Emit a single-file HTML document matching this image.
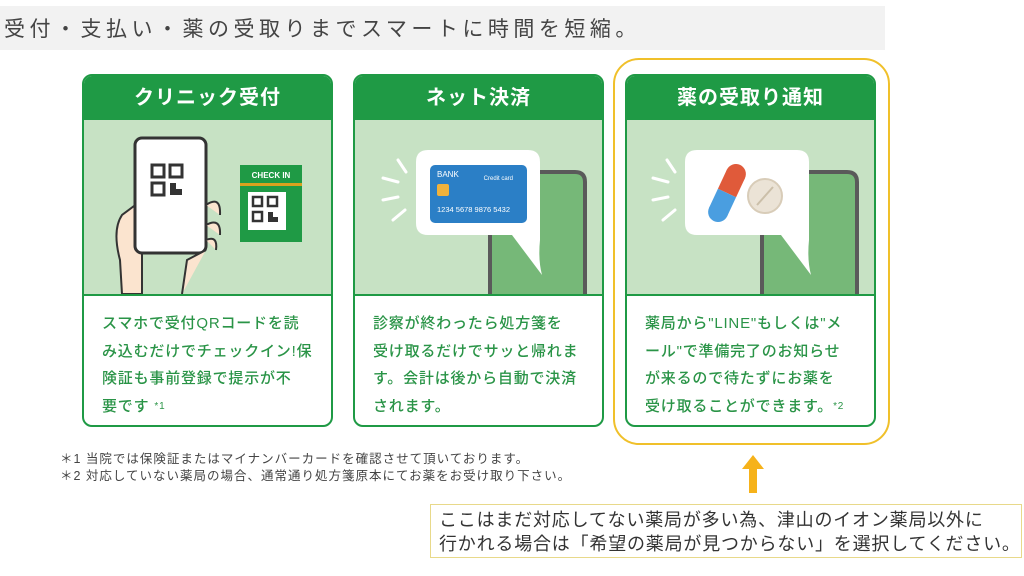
<!DOCTYPE html>
<html><head><meta charset="utf-8"><style>
body{margin:0;width:1024px;height:576px;background:#fff;position:relative;overflow:hidden;font-family:"Liberation Sans","Noto Sans CJK JP",sans-serif}
.a{position:absolute}
.title{left:0;top:6px;width:885px;height:44px;background:#f2f2f2;font-size:21px;color:#444;line-height:44px;padding-left:4px;box-sizing:border-box;letter-spacing:4.5px;font-family:"Noto Sans CJK JP",sans-serif}
.card{width:251px;height:353px;top:74px;border:2px solid #1f9a45;border-radius:10px;box-sizing:border-box;overflow:hidden;background:#fff}
.hd{height:44px;background:#1f9a45;color:#fff;font-weight:bold;font-size:20px;text-align:center;line-height:44px;letter-spacing:1px}
.ill{height:174px;background:#c7e2c4;border-bottom:2px solid #1f9a45;position:relative}
.tx{padding:14px 0 0 18px;color:#2a9447;font-size:15px;line-height:27.5px;font-weight:500;letter-spacing:0.8px}
.fn{left:60px;font-size:12.5px;color:#444;letter-spacing:1px}
</style></head><body>
<div class="a title">受付・支払い・薬の受取りまでスマートに時間を短縮。</div>
<div class="a" style="left:613px;top:58px;width:277px;height:387px;border:2px solid #f0c02a;border-radius:26px;box-sizing:border-box"></div>

<div class="a card" style="left:82px">
<div class="hd">クリニック受付</div>
<div class="ill"><svg width="251" height="174" class="a" style="left:-2px;top:0">
<path d="M40 174 L38 140 Q30 110 40 95 L60 80 L60 174Z" fill="#fbe4cf" stroke="#333" stroke-width="2"/>
<rect x="53" y="18" width="71" height="115" rx="7" fill="#fff" stroke="#333" stroke-width="3"/>
<g fill="none" stroke="#333" stroke-width="3"><rect x="70" y="45" width="12" height="12"/><rect x="88" y="45" width="12" height="12"/><rect x="70" y="63" width="12" height="12"/></g>
<path d="M88 63h6v6h6v6h-12z" fill="#333"/>
<path d="M124 85 q15 -10 14 10 M124 105 q15 -8 14 10 M124 120 q12 -5 10 10" fill="#fbe4cf" stroke="#333" stroke-width="2"/>
<path d="M100 174 L105 140 L124 130" fill="#fbe4cf" stroke="#333" stroke-width="2"/>
<rect x="158" y="45" width="62" height="77" fill="#1f9a45"/>
<text x="189" y="58" font-size="8" font-weight="bold" fill="#fff" text-anchor="middle">CHECK IN</text>
<rect x="158" y="63" width="62" height="3" fill="#d9a21e"/>
<rect x="166" y="72" width="38" height="38" fill="#fff"/>
<g fill="none" stroke="#333" stroke-width="2.5"><rect x="171" y="77" width="9" height="9"/><rect x="186" y="77" width="9" height="9"/><rect x="171" y="92" width="9" height="9"/></g>
<path d="M186 92h5v5h5v5h-10z" fill="#333"/>
</svg></div>
<div class="tx">スマホで受付QRコードを読<br>み込むだけでチェックイン!保<br>険証も事前登録で提示が不<br>要です <span style="font-size:10px;vertical-align:top">*1</span></div>
</div>

<div class="a card" style="left:353px">
<div class="hd">ネット決済</div>
<div class="ill"><svg width="251" height="174" class="a" style="left:-2px;top:0">
<path d="M137 174 V62 q0 -10 10 -10 H222 q10 0 10 10 V174" fill="#76b878" stroke="#5a5a5a" stroke-width="4"/>
<path d="M75 30 H175 q12 0 12 12 V120 q-2 20 2 35 q-15 -20 -30 -40 H75 q-12 0 -12 -12 V42 q0 -12 12 -12z" fill="#fff"/>
<rect x="77" y="45" width="97" height="58" rx="5" fill="#2b7fc6"/>
<text x="84" y="57" font-size="8" fill="#fff">BANK</text>
<text x="160" y="60" font-size="6" fill="#fff" text-anchor="end">Credit card</text>
<rect x="84" y="64" width="12" height="12" rx="2" fill="#f0b23c"/>
<text x="84" y="92" font-size="7.5" fill="#fff">1234 5678 9876 5432</text>
<g stroke="#fff" stroke-width="3" stroke-linecap="round"><line x1="45" y1="40" x2="53" y2="52"/><line x1="30" y1="58" x2="45" y2="62"/><line x1="30" y1="80" x2="45" y2="77"/><line x1="40" y1="100" x2="52" y2="90"/></g>
</svg></div>
<div class="tx">診察が終わったら処方箋を<br>受け取るだけでサッと帰れま<br>す。会計は後から自動で決済<br>されます。</div>
</div>

<div class="a card" style="left:625px">
<div class="hd">薬の受取り通知</div>
<div class="ill"><svg width="251" height="174" class="a" style="left:-2px;top:0">
<path d="M137 174 V62 q0 -10 10 -10 H222 q10 0 10 10 V174" fill="#76b878" stroke="#5a5a5a" stroke-width="4"/>
<path d="M72 30 H172 q12 0 12 12 V120 q-2 20 2 35 q-15 -20 -30 -40 H72 q-12 0 -12 -12 V42 q0 -12 12 -12z" fill="#fff"/>
<g transform="rotate(25 102 73)"><rect x="92" y="52" width="20" height="21" fill="#e05a3a"/><rect x="92" y="73" width="20" height="21" fill="#4a9ee0"/><circle cx="102" cy="52" r="10" fill="#e05a3a"/><circle cx="102" cy="94" r="10" fill="#4a9ee0"/></g>
<circle cx="140" cy="76" r="17" fill="#ebe3d6" stroke="#d8ccb8" stroke-width="2"/>
<line x1="132" y1="85" x2="148" y2="67" stroke="#cbbfa9" stroke-width="2"/>
<g stroke="#fff" stroke-width="3" stroke-linecap="round"><line x1="42" y1="40" x2="50" y2="52"/><line x1="28" y1="58" x2="43" y2="62"/><line x1="28" y1="80" x2="43" y2="77"/><line x1="38" y1="100" x2="50" y2="90"/></g>
</svg></div>
<div class="tx">薬局から"LINE"もしくは"メ<br>ール"で準備完了のお知らせ<br>が来るので待たずにお薬を<br>受け取ることができます。<span style="font-size:10px;vertical-align:top">*2</span></div>
</div>

<div class="a fn" style="top:448px">＊1 当院では保険証またはマイナンバーカードを確認させて頂いております。</div>
<div class="a fn" style="top:465px">＊2 対応していない薬局の場合、通常通り処方箋原本にてお薬をお受け取り下さい。</div>

<svg class="a" style="left:740px;top:455px" width="26" height="40"><path d="M13 0 L24 14 H17 V38 H9 V14 H2Z" fill="#f6b21a"/></svg>
<div class="a" style="left:430px;top:504px;width:592px;height:54px;border:1px solid #e8d98a;box-sizing:border-box;font-size:18px;color:#333;line-height:24px;padding:3px 0 0 8px;white-space:nowrap;letter-spacing:0.8px;overflow:hidden">ここはまだ対応してない薬局が多い為、津山のイオン薬局以外に<br>行かれる場合は「希望の薬局が見つからない」を選択してください。</div>
</body></html>
